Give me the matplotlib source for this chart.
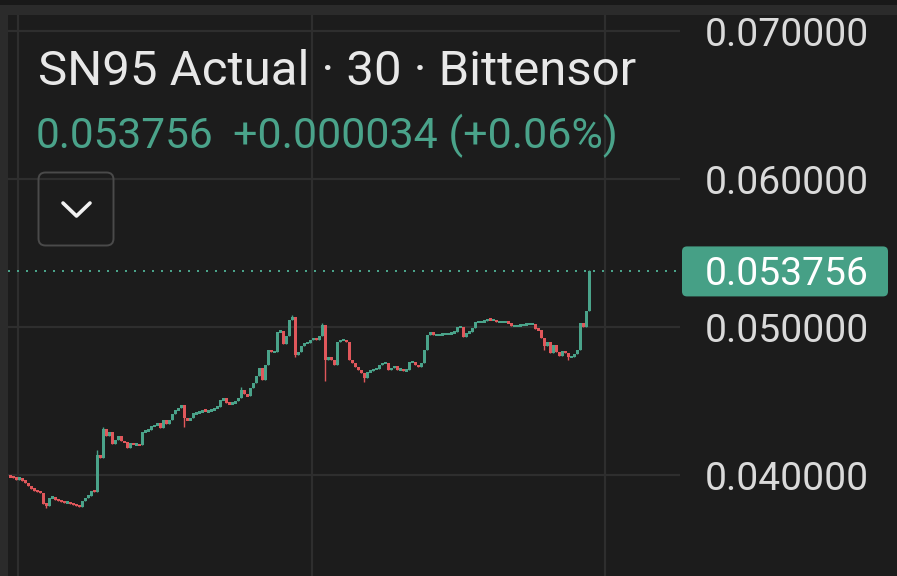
import matplotlib
matplotlib.use("Agg")
import matplotlib.pyplot as plt
import matplotlib.transforms as mtransforms
from matplotlib.patches import Rectangle, FancyBboxPatch
from matplotlib.lines import Line2D
import numpy as np

plt.rcParams['font.family'] = ['Roboto', 'DejaVu Sans']

W, H = 897, 576

# ---------------- data ----------------
title = "SN95 Actual · 30 · Bittensor"
last_price_text = "0.053756"
change_text = "+0.000034 (+0.06%)"
y_ticks = [0.04, 0.05, 0.06, 0.07]
y_tick_labels = ["0.040000", "0.050000", "0.060000", "0.070000"]

first_open = 0.039900
closes = [
    0.039898, 0.039831, 0.039695, 0.039831, 0.039627, 0.039492, 0.039288, 0.039085, 0.038949, 0.038881,
    0.038814, 0.038068, 0.037932, 0.038475, 0.038475, 0.038339, 0.038271, 0.038203, 0.038136, 0.038136,
    0.038068, 0.038000, 0.037932, 0.037864, 0.038271, 0.038475, 0.038610, 0.038949, 0.038881, 0.041322,
    0.041119, 0.043085, 0.042610, 0.042881, 0.042068, 0.042339, 0.042610, 0.042271, 0.042203, 0.041797,
    0.042136, 0.042068, 0.042068, 0.042000, 0.042881, 0.043017, 0.043017, 0.043288, 0.043356, 0.043492,
    0.043153, 0.043695, 0.043424, 0.043695, 0.044102, 0.044373, 0.044508, 0.044712, 0.043831, 0.043695,
    0.043831, 0.044169, 0.044169, 0.044237, 0.044373, 0.044305, 0.044305, 0.044373, 0.044508, 0.044576,
    0.045051, 0.045186, 0.044847, 0.044780, 0.044847, 0.044983, 0.045186, 0.045729, 0.045458, 0.045322,
    0.045864, 0.046203, 0.046678, 0.047220, 0.046407, 0.047424, 0.048441, 0.048305, 0.048305, 0.049661,
    0.049729, 0.048847, 0.049390, 0.050475, 0.050678, 0.048102, 0.048305, 0.048712, 0.048915, 0.048915,
    0.049119, 0.049254, 0.049119, 0.049390, 0.050136, 0.047763, 0.047966, 0.047763, 0.047424, 0.048983,
    0.049119, 0.049119, 0.048983, 0.047763, 0.047559, 0.047288, 0.047085, 0.046881, 0.046542, 0.046949,
    0.047017, 0.047153, 0.047153, 0.047424, 0.047559, 0.047559, 0.047085, 0.047220, 0.047356, 0.047085,
    0.047153, 0.047017, 0.047085, 0.047627, 0.047627, 0.047424, 0.047288, 0.047559, 0.048441, 0.049458,
    0.049661, 0.049458, 0.049458, 0.049458, 0.049525, 0.049525, 0.049525, 0.049593, 0.049661, 0.050000,
    0.050000, 0.049322, 0.049593, 0.049661, 0.049932, 0.050339, 0.050339, 0.050339, 0.050407, 0.050542,
    0.050475, 0.050475, 0.050339, 0.050339, 0.050339, 0.050339, 0.050271, 0.050068, 0.050068, 0.050068,
    0.050136, 0.050136, 0.050203, 0.050203, 0.050203, 0.049864, 0.049797, 0.049254, 0.048712, 0.048983,
    0.048237, 0.048780, 0.048305, 0.048034, 0.048373, 0.048237, 0.047966, 0.047966, 0.048169, 0.048441,
    0.050271, 0.050000, 0.051085, 0.053756,
]
# notable wick extremes (candle index -> price)
wick_high = {29: 0.041661, 31: 0.043220, 77: 0.045932, 94: 0.050814, 104: 0.050271, 193: 0.053864}
wick_low = {12: 0.037797, 58: 0.043220, 95: 0.047966, 105: 0.046339, 118: 0.046271,
            178: 0.048441, 186: 0.047763}

# ---------------- style ----------------
BG = '#1c1c1c'
FRAME = '#2b2b2b'
TOPSTRIP = '#191919'
GRID = '#2e2e2e'
UP = '#4aa38a'
DOWN = '#e0575b'
TEXT = '#e8e8e8'
AXIS_TEXT = '#dadada'
LABEL_BG = '#46a086'
ident = mtransforms.IdentityTransform()

fig = plt.figure(figsize=(W / 100, H / 100), dpi=100, facecolor=BG)

# outer frame
fig.add_artist(Rectangle((0, H - 5), W, 5, transform=ident, fc=TOPSTRIP, ec='none', zorder=0))
fig.add_artist(Rectangle((0, H - 15), W, 10, transform=ident, fc=FRAME, ec='none', zorder=0))
fig.add_artist(Rectangle((0, 0), 8, H - 15, transform=ident, fc=FRAME, ec='none', zorder=0))
fig.add_artist(FancyBboxPatch((8, -30), W + 30, H - 15 + 30, boxstyle='round,pad=0,rounding_size=12',
                              transform=ident, fc=BG, ec='none', zorder=0.5))

# main chart axes
ax = fig.add_axes([8 / W, 0, 672 / W, (H - 15) / H])
ax.set_facecolor('none')
ax.set_zorder(1)
ax.set_xlim(-2 / 3, 224 - 2 / 3)
ax.set_ylim(0.033176, 0.071081)
for s in ax.spines.values():
    s.set_visible(False)
ax.set_yticks(y_ticks)
ax.set_xticks([2.67, 100.67, 198.33])
ax.tick_params(length=0, labelleft=False, labelbottom=False)
ax.grid(True, color=GRID, lw=1.6)
ax.set_axisbelow(True)

n = len(closes)
idx = np.arange(n)
c = np.array(closes)
o = np.array([first_open] + closes[:-1])
hi = np.maximum(o, c)
lo = np.minimum(o, c)
for k, v in wick_high.items():
    hi[k] = max(hi[k], v)
for k, v in wick_low.items():
    lo[k] = min(lo[k], v)
cols = [UP if cc >= oo else DOWN for oo, cc in zip(o, c)]
min_h = 0.00018
bottoms = np.minimum(o, c)
heights = np.maximum(np.abs(c - o), min_h)
bottoms = np.where(np.abs(c - o) < min_h, (o + c) / 2 - min_h / 2, bottoms)
ax.vlines(idx, lo, hi, colors=cols, lw=1.0, zorder=3)
ax.bar(idx, heights, bottom=bottoms, width=1.0, color=cols, linewidth=0, zorder=4)

# last price dotted line
ax.axhline(closes[-1], color=UP, lw=1.44, ls=(0, (1, 3.5)), zorder=2)

renderer = fig.canvas.get_renderer()


def fit(t, target):
    w = t.get_window_extent(renderer).width
    t.set_fontsize(t.get_fontsize() * target / w)


# title & subtitle
t_title = fig.text(38, H - 85, title, transform=ident, color=TEXT, fontsize=30, ha='left', va='baseline')
fit(t_title, 597)
t_p = fig.text(36, H - 148, last_price_text, transform=ident, color=UP, fontsize=22, ha='left', va='baseline')
fit(t_p, 178)
t_c = fig.text(233, H - 148, change_text, transform=ident, color=UP, fontsize=22,
               ha='left', va='baseline')
fit(t_c, 386)

# dropdown button
fig.add_artist(FancyBboxPatch((38.5, H - 245.5), 75, 73, boxstyle='round,pad=0,rounding_size=7',
                              transform=ident, fc='none', ec='#4a4a4a', lw=1.4, zorder=2))
fig.add_artist(Line2D([63, 76.5, 90], [H - 203, H - 216, H - 203], transform=ident, color='#f2f2f2',
                      lw=2.6, solid_capstyle='round', solid_joinstyle='round', zorder=3))

# right price scale labels
probe = fig.text(705, 0, y_tick_labels[-1], transform=ident, fontsize=22)
fit(probe, 164)
fs = probe.get_fontsize()
probe.remove()
cap = 0.71 * fs * 100 / 72
for v, lab in zip(y_ticks, y_tick_labels):
    yd = ax.transData.transform((0, v))[1] - 1.5
    fig.text(705, yd - cap / 2, lab, transform=ident, color=AXIS_TEXT, fontsize=fs, ha='left', va='baseline')

# last price label box
yd = ax.transData.transform((0, closes[-1]))[1]
fig.add_artist(FancyBboxPatch((682, yd - 25), 206, 50, boxstyle='round,pad=0,rounding_size=5',
                              transform=ident, fc=LABEL_BG, ec='none', zorder=2))
fig.text(705, yd - cap / 2, last_price_text, transform=ident, color='white', fontsize=fs,
         ha='left', va='baseline', zorder=3)

fig.savefig('out.png', dpi=100, facecolor=BG)
